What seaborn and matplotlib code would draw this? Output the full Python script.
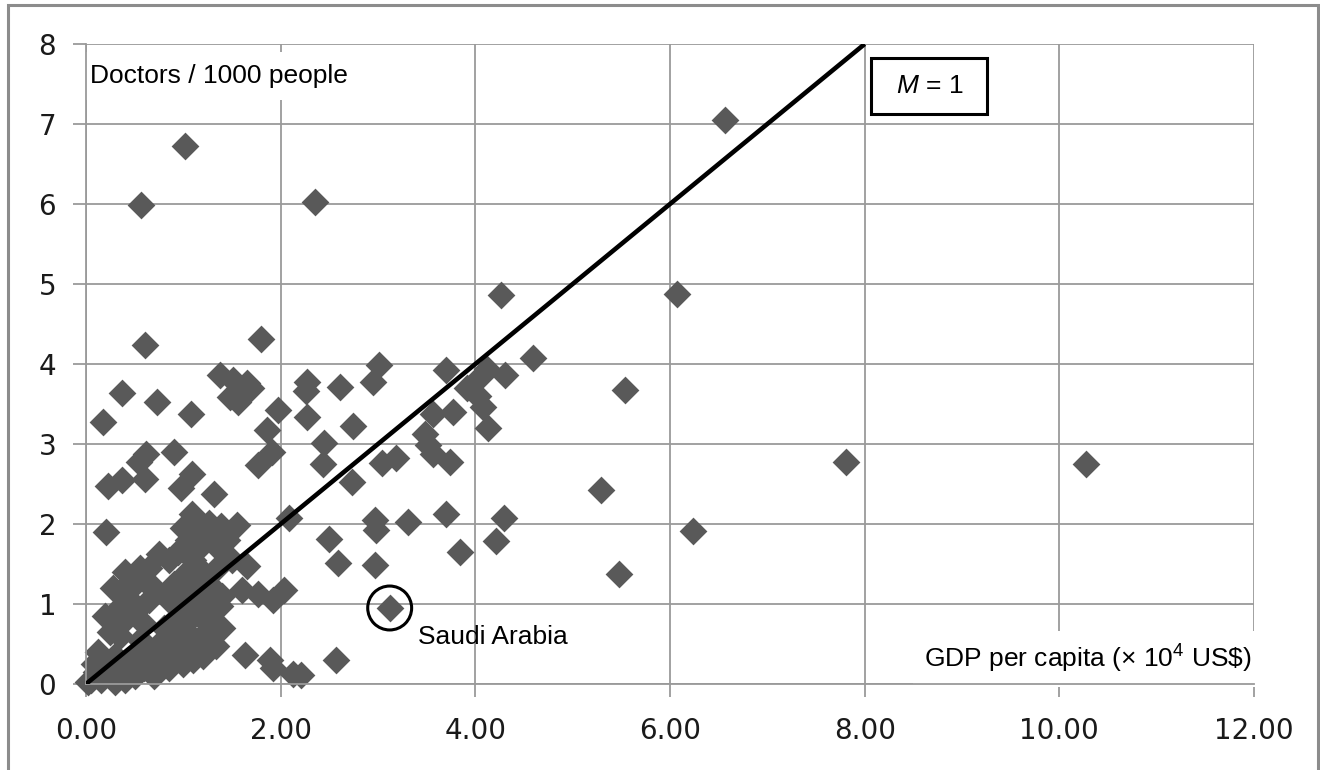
import matplotlib
matplotlib.use('Agg')
import matplotlib.pyplot as plt
from matplotlib.patches import Rectangle
import seaborn as sns
import pandas as pd

# GDP per capita (x 10^4 US$) vs doctors per 1000 people, one entry per country
gdp = [10.27, 7.81, 6.57, 6.07, 6.24, 5.54, 5.29, 5.48,
       4.26, 4.59, 4.30, 4.12, 4.05, 4.03, 4.08, 4.13, 4.29, 4.21,
       3.01, 2.95, 3.70, 3.91, 3.77, 3.57, 3.48, 3.51, 3.57, 3.74, 3.19, 3.04,
       2.74, 2.61, 2.27, 2.26, 2.27, 2.45, 2.44, 2.73,
       2.97, 2.98, 3.31, 3.70, 3.84, 2.50, 2.59, 2.97, 3.12, 2.57, 2.21, 2.09,
       1.02, 0.57, 2.35, 0.61, 1.80,
       0.37, 0.73, 1.08, 0.17,
       1.38, 1.51, 1.65, 1.56, 1.48, 1.70, 1.97, 1.86, 1.91, 1.77,
       0.62, 0.90, 0.54, 0.37, 0.23, 0.61, 1.09, 0.98, 1.32, 0.21,
       1.09, 1.26, 1.39, 1.55,
       1.65, 1.60, 1.77, 1.92, 2.03, 1.89, 1.92, 2.13, 1.63,
       1.00, 1.05, 1.15, 1.20, 1.30, 1.45, 1.40, 0.95, 0.85, 0.75, 1.10, 1.50, 0.65, 1.35, 1.20,
       0.40, 0.50, 0.55, 0.60, 0.70, 0.90, 1.00, 1.05, 1.15, 1.30, 1.40, 0.35, 0.45, 0.65, 0.85,
       0.95, 1.20, 1.35, 0.28,
       0.20, 0.30, 0.40, 0.50, 0.60, 0.80, 0.90, 1.00, 1.10, 1.25, 1.40, 1.30, 1.15, 0.35, 0.55,
       0.75, 0.95, 0.25,
       0.05, 0.10, 0.15, 0.20, 0.25, 0.30, 0.35, 0.40, 0.45, 0.50, 0.55, 0.60, 0.70, 0.75, 0.85, 0.90,
       1.00, 1.10, 1.20, 1.05, 0.12, 0.08, 0.65, 0.02, 0.30,
       1.34, 1.31, 1.38]
doctors = [2.75, 2.77, 7.05, 4.88, 1.91, 3.68, 2.43, 1.37,
           4.86, 4.07, 3.86, 3.94, 3.84, 3.60, 3.46, 3.20, 2.07, 1.79,
           3.99, 3.78, 3.93, 3.70, 3.40, 3.38, 3.13, 2.99, 2.88, 2.78, 2.82, 2.76,
           3.22, 3.71, 3.78, 3.66, 3.34, 3.01, 2.75, 2.53,
           2.05, 1.93, 2.03, 2.13, 1.65, 1.81, 1.51, 1.49, 0.95, 0.30, 0.11, 2.07,
           6.72, 5.99, 6.03, 4.24, 4.31,
           3.64, 3.52, 3.37, 3.28,
           3.86, 3.80, 3.76, 3.53, 3.59, 3.70, 3.43, 3.18, 2.90, 2.74,
           2.88, 2.90, 2.78, 2.55, 2.47, 2.56, 2.63, 2.45, 2.38, 1.90,
           2.13, 2.01, 1.97, 1.99,
           1.47, 1.18, 1.13, 1.05, 1.18, 0.30, 0.20, 0.13, 0.36,
           1.95, 1.80, 1.90, 1.75, 1.85, 1.80, 1.65, 1.65, 1.55, 1.62, 1.55, 1.55, 1.45, 1.45, 1.40,
           1.40, 1.25, 1.45, 1.30, 1.20, 1.25, 1.35, 1.15, 1.25, 1.20, 1.10, 1.15, 1.05, 1.05, 1.05,
           1.00, 1.00, 0.95, 1.20,
           0.85, 0.90, 0.80, 0.90, 0.75, 0.70, 0.80, 0.70, 0.85, 0.75, 0.70, 0.60, 0.55, 0.60, 0.55,
           0.50, 0.55, 0.65,
           0.05, 0.15, 0.05, 0.25, 0.10, 0.35, 0.15, 0.05, 0.30, 0.10, 0.40, 0.20, 0.10, 0.30, 0.20, 0.40,
           0.25, 0.30, 0.35, 0.45, 0.40, 0.25, 0.45, 0.02, 0.02,
           0.47, 0.63, 0.97]

saudi_gdp = 3.12
saudi_doctors = 0.95

# reference line M = 1
line_x = [0, 8]
line_y = [0, 8]

x_ticks = [0, 2, 4, 6, 8, 10, 12]
x_tick_labels = ['0.00', '2.00', '4.00', '6.00', '8.00', '10.00', '12.00']
y_ticks = [0, 1, 2, 3, 4, 5, 6, 7, 8]
y_tick_labels = ['0', '1', '2', '3', '4', '5', '6', '7', '8']

GRID = '#9a9a9a'
MARK = '#595959'


def main():
    sns.set_theme(style='white')
    plt.rcParams['font.family'] = ['Liberation Sans', 'DejaVu Sans']
    plt.rcParams['mathtext.fontset'] = 'custom'
    plt.rcParams['mathtext.rm'] = 'Liberation Sans'
    plt.rcParams['mathtext.it'] = 'Liberation Sans:italic'
    plt.rcParams['text.color'] = 'black'

    fig = plt.figure(figsize=(13.2, 7.7), dpi=100)
    ax = fig.add_axes([86 / 1320, 1 - 684 / 770, 1168 / 1320, 640 / 770])

    df = pd.DataFrame({'gdp': gdp, 'doctors': doctors})
    sns.scatterplot(data=df, x='gdp', y='doctors', marker='D', s=200, color=MARK,
                    linewidth=0, ax=ax, zorder=1.5, clip_on=False)
    ax.plot(line_x, line_y, color='black', lw=3.3, zorder=3, solid_capstyle='butt')

    # circle round Saudi Arabia
    ax.scatter([saudi_gdp], [saudi_doctors], s=1000, facecolors='none',
               edgecolors='black', linewidths=2.2, zorder=3, clip_on=False)

    ax.set_xlim(0, 12)
    ax.set_ylim(0, 8)
    ax.set_xticks(x_ticks)
    ax.set_xticklabels(x_tick_labels)
    ax.set_yticks(y_ticks)
    ax.set_yticklabels(y_tick_labels)
    ax.set_xlabel('')
    ax.set_ylabel('')

    ax.set_axisbelow(True)
    ax.grid(True, color=GRID, lw=1.3)
    ax.tick_params(bottom=True, left=True, direction='out', length=9.5, width=1.3,
                   color=GRID, labelsize=20, labelcolor='#1a1a1a')
    ax.tick_params(axis='x', pad=14)
    ax.tick_params(axis='y', pad=12)
    for lbl in ax.get_xticklabels() + ax.get_yticklabels():
        lbl.set_fontfamily('DejaVu Sans')

    for side in ['top', 'right']:
        ax.spines[side].set_visible(False)
    for side in ['left', 'bottom']:
        ax.spines[side].set_color(GRID)
        ax.spines[side].set_linewidth(1.3)

    box = dict(boxstyle='square,pad=0.45', fc='white', ec='none')
    ax.text(0.04, 7.6, 'Doctors / 1000 people', fontsize=19, ha='left', va='center',
            color='black', bbox=box, zorder=2.2)
    ax.text(11.98, 0.31, 'GDP per capita (× 10$^{4}$ US\\$)', fontsize=19, ha='right',
            va='center', color='black', bbox=box, zorder=2.2)
    ax.text(3.41, 0.59, 'Saudi Arabia', fontsize=19, ha='left', va='center',
            color='black', zorder=2.2)

    ax.add_patch(Rectangle((8.07, 7.125), 1.19, 0.70, fc='white', ec='black', lw=2.2, zorder=3))
    ax.text(8.665, 7.475, '$M$ = 1', fontsize=19, ha='center', va='center',
            color='black', zorder=3.1)

    # outer frame of the picture
    fig.patches.append(Rectangle((8 / 1320, -0.05), 1310 / 1320, 1.05 - 5 / 770,
                                 transform=fig.transFigure, fill=False, ec='#8c8c8c', lw=2.2))

    fig.savefig('out.png', dpi=100)


if __name__ == '__main__':
    main()
